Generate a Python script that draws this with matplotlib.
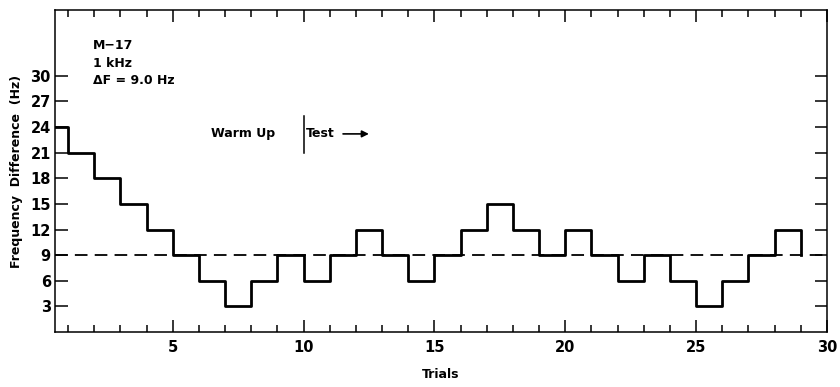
import matplotlib
matplotlib.use("Agg")
import matplotlib.pyplot as plt
import numpy as np

# Data
step_edges = [0.5] + list(range(1, 30))  # 0.5, 1, 2, ..., 29
freq_diff = [24, 21, 18, 15, 12, 9, 6, 3, 6, 9, 6, 9, 12, 9, 6, 9, 12, 15, 12, 9,
             12, 9, 6, 9, 6, 3, 6, 9, 12, 9]
delta_f = 9.0
x_major = [5, 10, 15, 20, 25, 30]
x_minor = list(range(1, 30))
y_ticks = [3, 6, 9, 12, 15, 18, 21, 24, 27, 30]

plt.rcParams['font.family'] = ['DejaVu Sans']
plt.rcParams['font.weight'] = 'bold'

fig = plt.figure(figsize=(8.4, 3.87), dpi=100)
ax = fig.add_axes([0.0655, 0.142, 0.919, 0.832])

ax.step(step_edges, freq_diff, where='post', color='black', lw=2.0)
ax.axhline(delta_f, color='black', lw=1.3, ls=(0, (7, 4)))

ax.set_xlim(0.5, 30)
ax.set_ylim(0, 37.7)

ax.set_xticks(x_major)
ax.set_xticks(x_minor, minor=True)
ax.set_yticks(y_ticks)
ax.tick_params(axis='x', which='major', direction='in', length=8.5, width=1.1,
               top=True, bottom=True, labelsize=10.5, pad=6)
ax.tick_params(axis='x', which='minor', direction='in', length=5, width=1.1,
               top=True, bottom=True)
ax.tick_params(axis='y', which='major', direction='in', length=9, width=1.1,
               left=True, right=True, labelsize=10.5, pad=3)
for lab in ax.get_xticklabels() + ax.get_yticklabels():
    lab.set_fontweight('bold')
for s in ax.spines.values():
    s.set_linewidth(1.1)

ax.set_xlabel('Trials', fontsize=9, fontweight='bold', labelpad=9)
ax.set_ylabel('Frequency  Difference  (Hz)', fontsize=9, fontweight='bold', labelpad=5)

ax.text(1.95, 33.5, 'M\u221217', fontsize=9, fontweight='bold', va='center', ha='left')
ax.text(1.95, 31.5, '1 kHz', fontsize=9, fontweight='bold', va='center', ha='left')
ax.text(1.95, 29.4, '\u0394F = 9.0 Hz', fontsize=9, fontweight='bold', va='center', ha='left')

ax.plot([10, 10], [21.0, 25.3], color='black', lw=1.1)
ax.text(7.7, 23.2, 'Warm Up', fontsize=9, fontweight='bold', va='center', ha='center')
ax.text(10.1, 23.2, 'Test', fontsize=9, fontweight='bold', va='center', ha='left')
ax.annotate('', xy=(12.6, 23.2), xytext=(11.4, 23.2),
            arrowprops=dict(arrowstyle='-|>', color='black', lw=1.2, mutation_scale=10))

fig.savefig('out.png', dpi=100)
